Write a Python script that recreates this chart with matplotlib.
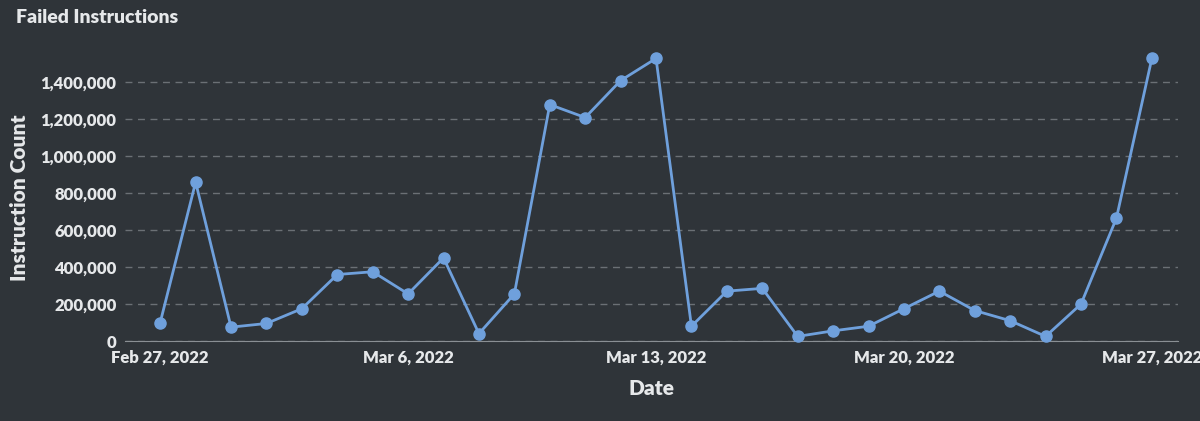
import matplotlib
matplotlib.use("Agg")
import matplotlib.pyplot as plt
import numpy as np
import pandas as pd

plt.rcParams["font.family"] = ["Lato", "DejaVu Sans"]

dates = pd.date_range("2022-02-27", "2022-03-27", freq="D")
counts = [100000, 860000, 75000, 95000, 175000, 360000, 375000, 255000, 450000, 40000,
          255000, 1280000, 1210000, 1410000, 1530000, 80000, 270000, 285000, 25000, 55000,
          80000, 175000, 270000, 165000, 110000, 25000, 200000, 665000, 1530000]
tick_dates = pd.to_datetime(["2022-02-27", "2022-03-06", "2022-03-13", "2022-03-20", "2022-03-27"])

bg = "#2f3439"
line_color = "#6fa0dc"
text_color = "#e6e8ea"

fig = plt.figure(figsize=(12, 4.21), dpi=100, facecolor=bg)
ax = fig.add_axes([0.104, 0.19, 0.878, 0.68], facecolor=bg)

ax.plot(dates, counts, color=line_color, linewidth=2, marker="o", markersize=8, zorder=3, clip_on=False)

ax.set_ylim(0, 1550000)
ax.set_yticks(np.arange(0, 1400001, 200000))
ax.yaxis.set_major_formatter(matplotlib.ticker.FuncFormatter(lambda v, p: f"{int(v):,}"))
ax.set_xlim(dates[0] - pd.Timedelta(days=1), dates[-1] + pd.Timedelta(days=0.75))
ax.set_xticks(tick_dates)
ax.set_xticklabels([d.strftime("%b %-d, %Y") for d in tick_dates])

ax.grid(axis="y", color="#6b7075", linestyle=(0, (5, 4)), linewidth=1)
ax.set_axisbelow(True)
for s in ["top", "right", "left"]:
    ax.spines[s].set_visible(False)
ax.spines["bottom"].set_color("#8a8f94")
ax.tick_params(colors=text_color, labelsize=12, length=0, pad=6)
for lab in ax.get_xticklabels() + ax.get_yticklabels():
    lab.set_fontweight("heavy")

ax.set_xlabel("Date", color=text_color, fontsize=15, fontweight="heavy", labelpad=10)
ax.set_ylabel("Instruction Count", color=text_color, fontsize=15, fontweight="heavy", labelpad=8)
fig.text(0.013, 0.945, "Failed Instructions", color=text_color, fontsize=14, fontweight="heavy")

fig.savefig("out.png", dpi=100, facecolor=bg)
